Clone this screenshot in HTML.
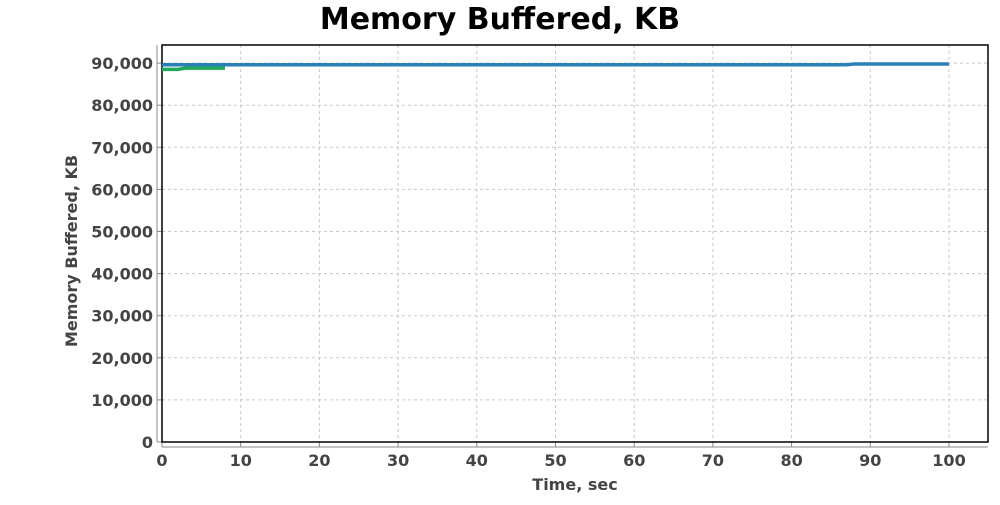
<!DOCTYPE html>
<html><head><meta charset="utf-8"><style>
body{margin:0;background:#fff;font-family:"Liberation Sans",sans-serif;}
svg text{font-family:"DejaVu Sans","Liberation Sans",sans-serif;}
</style></head><body>
<svg id="chart" width="1000" height="500">
<rect width="1000" height="500" fill="#fff"/>
<text x="500" y="29" text-anchor="middle" font-size="30" font-weight="bold" fill="#000">Memory Buffered, KB</text>
<g id="grid"></g>
<g id="axes"></g>
<g id="series"></g>
<text x="575" y="490" text-anchor="middle" font-size="16" font-weight="bold" fill="#444">Time, sec</text>
<text transform="translate(77,251) rotate(-90)" text-anchor="middle" font-size="16" font-weight="bold" fill="#444">Memory Buffered, KB</text>
</svg>
<script>
const xTicks=[0,10,20,30,40,50,60,70,80,90,100];
const yTicks=[0,10000,20000,30000,40000,50000,60000,70000,80000,90000];
const blueT=[0,2,3,87,88,100];
const blueV=[89600,89600,89600,89600,89800,89800];
const greenT=[0,2,3,8];
const greenV=[88500,88500,88800,88800];
const L=162,R=988,T=45,B=442;
const X=t=>L+t*7.87;
const Y=v=>B-v*(397/94300);
const ns="http://www.w3.org/2000/svg";
function mk(tag,attrs,parent){const e=document.createElementNS(ns,tag);for(const k in attrs)e.setAttribute(k,attrs[k]);parent.appendChild(e);return e;}
const g=document.getElementById('grid'),a=document.getElementById('axes'),s=document.getElementById('series');
xTicks.forEach(t=>{
  const l=mk('line',{x1:X(t),x2:X(t),y1:T,y2:B,stroke:'#c8c8c8','stroke-dasharray':'3,3'},g);
  
  
  mk('line',{x1:X(t),x2:X(t),y1:B,y2:B+5,stroke:'#888'},a);
  const tx=mk('text',{x:X(t),y:B+24,'text-anchor':'middle','font-size':16,'font-weight':'bold',fill:'#444'},a);
  tx.textContent=t;
  
  
});
yTicks.forEach(v=>{
  const l=mk('line',{x1:L,x2:R,y1:Y(v),y2:Y(v),stroke:'#c8c8c8','stroke-dasharray':'3,3'},g);
  
  
  mk('line',{x1:L-5,x2:L,y1:Y(v),y2:Y(v),stroke:'#888'},a);
  const tx=mk('text',{x:L-9,y:Y(v)+6,'text-anchor':'end','font-size':16,'font-weight':'bold',fill:'#444'},a);
  tx.textContent=v.toLocaleString('en-US');
  
  
});
const fr=mk('rect',{x:L,y:T,width:R-L,height:B-T,fill:'none',stroke:'#000','stroke-width':1.5},a);


mk('line',{x1:L-5,x2:L-5,y1:T,y2:B,stroke:'#888'},a);
mk('line',{x1:L,x2:R,y1:B+5,y2:B+5,stroke:'#888'},a);
function series(ts,vs,color,name){
  const p=mk('polyline',{points:ts.map((t,i)=>X(t)+','+Y(vs[i])).join(' '),fill:'none',stroke:color,'stroke-width':3.5},s);
  
  
}
series(blueT,blueV,'#2b7fb8','series-blue-line');
series(greenT,greenV,'#22a85a','series-green-line');
</script>
</body></html>
